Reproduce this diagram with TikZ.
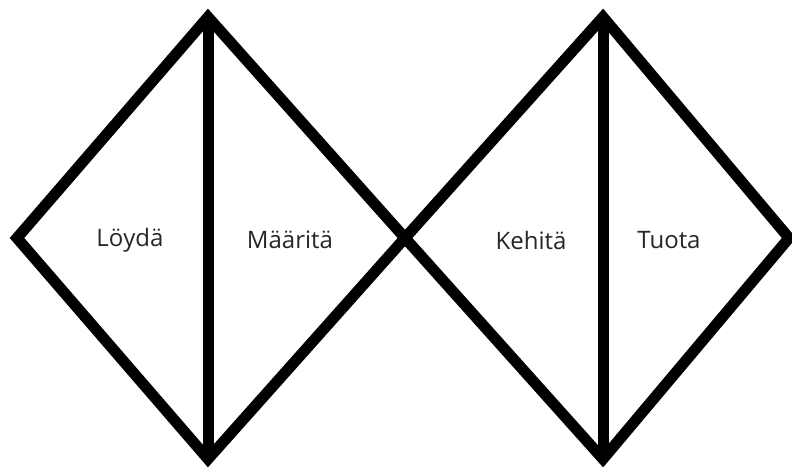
\documentclass[tikz,border=0pt]{standalone}
\usepackage{fontspec}
\setmainfont{Open Sans}
\begin{document}
\begin{tikzpicture}[x=1pt,y=-1pt,
  edge/.style={line width=11pt,line join=miter,miter limit=10},
  lbl/.style={font=\fontsize{24}{28}\selectfont,text=black!85,inner sep=0pt}]
\useasboundingbox (0,0) rectangle (792,466);
\coordinate (L1) at (17,238);
\coordinate (T1) at (208,17);
\coordinate (B1) at (208,459);
\coordinate (M) at (405,238);
\coordinate (T2) at (603,17);
\coordinate (B2) at (603,459);
\coordinate (R2) at (789,238);
\draw[edge] (L1) -- (T1) -- (M) -- (B1) -- cycle;
\draw[edge] (M) -- (T2) -- (R2) -- (B2) -- cycle;
\draw[edge] (T1) -- (B1);
\draw[edge] (T2) -- (B2);
\node[lbl] (loyda) at (130,240) {Löydä};
\node[lbl] (maarita) at (290,240) {Määritä};
\node[lbl] (kehita) at (531,240) {Kehitä};
\node[lbl] (tuota) at (669,240) {Tuota};
\end{tikzpicture}
\end{document}
